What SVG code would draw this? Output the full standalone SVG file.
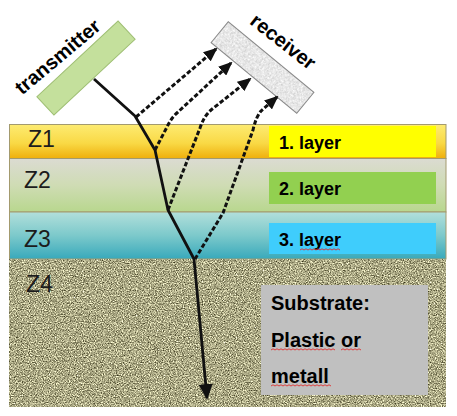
<svg xmlns="http://www.w3.org/2000/svg" width="457" height="416" viewBox="0 0 457 416">
  <defs>
    <style>
      .zl { font-family: "Liberation Sans", Arial, sans-serif; font-size: 23px; fill: #1c1c1c; }
      .lbl { font-family: "Liberation Sans", Arial, sans-serif; font-size: 18px; font-weight: bold; fill: #000; }
      .sub { font-family: "Liberation Sans", Arial, sans-serif; font-size: 20px; font-weight: bold; fill: #000; }
      .dev { font-family: "Liberation Sans", Arial, sans-serif; font-size: 20px; font-weight: bold; fill: #000; }
      .ray { fill: none; stroke: #111; stroke-width: 3; stroke-dasharray: 4.5 2.2; }
      .solid { fill: none; stroke: #111; stroke-width: 2.8; stroke-linejoin: round; }
      .wavy { fill: none; stroke: #e03030; stroke-width: 0.9; }
      .layer { stroke: #a39a6e; stroke-width: 1; }
    </style>
    <linearGradient id="gZ1" x1="0" y1="0" x2="0" y2="1">
      <stop offset="0" stop-color="#fdeb72"/>
      <stop offset="0.55" stop-color="#f9d945"/>
      <stop offset="1" stop-color="#efaf0c"/>
    </linearGradient>
    <linearGradient id="gZ2" x1="0" y1="0" x2="0" y2="1">
      <stop offset="0" stop-color="#dbdbd2"/>
      <stop offset="0.5" stop-color="#cfdcb4"/>
      <stop offset="1" stop-color="#b8d78e"/>
    </linearGradient>
    <linearGradient id="gZ3" x1="0" y1="0" x2="0" y2="1">
      <stop offset="0" stop-color="#b2dfdb"/>
      <stop offset="0.5" stop-color="#7cc9cb"/>
      <stop offset="1" stop-color="#38a9bb"/>
    </linearGradient>
    <filter id="grain" x="0" y="0" width="100%" height="100%" color-interpolation-filters="sRGB">
      <feTurbulence type="fractalNoise" baseFrequency="0.85" numOctaves="2" seed="7"/>
      <feColorMatrix type="matrix" values="1.3 0 0 0 0.02  1.3 0 0 0 0.01  1.2 0 0 0 -0.08  0 0 0 0 1"/>
    </filter>
    <filter id="paper" x="0" y="0" width="100%" height="100%" color-interpolation-filters="sRGB">
      <feTurbulence type="fractalNoise" baseFrequency="0.6" numOctaves="2" seed="3"/>
      <feColorMatrix type="matrix" values="0.35 0 0 0 0.73  0.35 0 0 0 0.73  0.35 0 0 0 0.73  0 0 0 0 1"/>
    </filter>
    <marker id="ah" markerUnits="userSpaceOnUse" markerWidth="14" markerHeight="12" refX="12" refY="6" orient="auto">
      <path d="M0,0 L14,6 L0,12 Z" fill="#111"/>
    </marker>
    <marker id="ahBig" markerUnits="userSpaceOnUse" markerWidth="16" markerHeight="14" refX="14" refY="7" orient="auto">
      <path d="M0,0 L16,7 L0,14 Z" fill="#111"/>
    </marker>
  </defs>

  <rect width="457" height="416" fill="#ffffff"/>

  <g id="layer-z1">
    <rect class="layer" x="9.5" y="124.5" width="436.5" height="34" fill="url(#gZ1)"/>
    <text class="zl" x="28" y="147">Z1</text>
  </g>
  <g id="layer-z2">
    <rect class="layer" x="9.5" y="158.5" width="436.5" height="53.5" fill="url(#gZ2)"/>
    <text class="zl" x="24" y="188">Z2</text>
  </g>
  <g id="layer-z3">
    <rect class="layer" x="9.5" y="212" width="436.5" height="47" fill="url(#gZ3)"/>
    <text class="zl" x="24" y="247">Z3</text>
  </g>
  <g id="layer-z4">
    <rect x="9" y="259" width="437" height="148" fill="#a9a68b" filter="url(#grain)"/>
    <text class="zl" x="26" y="292">Z4</text>
  </g>

  <g id="label-1">
    <rect x="269" y="126" width="167" height="31" fill="#ffff00"/>
    <text class="lbl" x="279" y="149">1. layer</text>
  </g>
  <g id="label-2">
    <rect x="269" y="172" width="167" height="32" fill="#92d050"/>
    <text class="lbl" x="279" y="195">2. layer</text>
  </g>
  <g id="label-3">
    <rect x="269" y="223" width="167" height="31" fill="#3fcdfc"/>
    <text class="lbl" x="279" y="246">3. layer</text>
    <path class="wavy" stroke="#b05070" d="M300,250 l2,-1.2 l2,1.2 l2,-1.2 l2,1.2 l2,-1.2 l2,1.2 l2,-1.2 l2,1.2 l2,-1.2 l2,1.2 l2,-1.2 l2,1.2 l2,-1.2 l2,1.2 l2,-1.2 l2,1.2 l2,-1.2 l2,1.2 l2,-1.2 l2,1.2"/>
  </g>
  <g id="substrate-box">
    <rect x="261" y="285" width="167" height="110" fill="#c0c0c0"/>
    <text class="sub" x="271" y="310">Substrate:</text>
    <text class="sub" x="271" y="347">Plastic or</text>
    <text class="sub" x="271" y="383">metall</text>
    <path class="wavy" d="M271,350 l2,-1.2 l2,1.2 l2,-1.2 l2,1.2 l2,-1.2 l2,1.2 l2,-1.2 l2,1.2 l2,-1.2 l2,1.2 l2,-1.2 l2,1.2 l2,-1.2 l2,1.2 l2,-1.2 l2,1.2 l2,-1.2 l2,1.2 l2,-1.2 l2,1.2 l2,-1.2 l2,1.2 l2,-1.2 l2,1.2 l2,-1.2 l2,1.2 l2,-1.2 l2,1.2 l2,-1.2 l2,1.2 l2,-1.2 l2,1.2 M341,350 l2,-1.2 l2,1.2 l2,-1.2 l2,1.2 l2,-1.2 l2,1.2 l2,-1.2 l2,1.2 l2,-1.2 l2,1.2"/>
    <path class="wavy" d="M271,386 l2,-1.2 l2,1.2 l2,-1.2 l2,1.2 l2,-1.2 l2,1.2 l2,-1.2 l2,1.2 l2,-1.2 l2,1.2 l2,-1.2 l2,1.2 l2,-1.2 l2,1.2 l2,-1.2 l2,1.2 l2,-1.2 l2,1.2 l2,-1.2 l2,1.2 l2,-1.2 l2,1.2 l2,-1.2 l2,1.2 l2,-1.2 l2,1.2 l2,-1.2 l2,1.2 l2,-1.2 l2,1.2"/>
  </g>

  <g id="transmitter">
    <rect x="30.5" y="55.5" width="111" height="25" fill="#c4e09c" stroke="#9fbf74" stroke-width="1" transform="rotate(-43 86 68)"/>
    <text class="dev" x="62" y="62" text-anchor="middle" transform="rotate(-40 62 62)">transmitter</text>
  </g>
  <g id="receiver">
    <rect x="207" y="54" width="111" height="27" fill="#e6e6e6" filter="url(#paper)" transform="rotate(39.5 262.5 67.5)"/>
    <rect x="207" y="54" width="111" height="27" fill="none" stroke="#8a8a8a" stroke-width="1" transform="rotate(39.5 262.5 67.5)"/>
    <text class="dev" x="279" y="47" text-anchor="middle" transform="rotate(38 279 47)">receiver</text>
  </g>

  <g id="connectors">
    <path class="solid" d="M94,79 L135,116 L155,150 L168,210 L194,259 L207,398" marker-end="url(#ahBig)"/>
    <path class="ray" d="M136,117 L216,49" marker-end="url(#ah)"/>
    <path class="ray" d="M155,150 L167,127 Q171,118 178,112 L231,63" marker-end="url(#ah)"/>
    <path class="ray" d="M168,210 L200,128 Q204,116 211,110 L250,79" marker-end="url(#ah)"/>
    <path class="ray" d="M195,259 L223,213 L253,130 Q256,117 261,111 L277,97" marker-end="url(#ah)"/>
  </g>
</svg>
